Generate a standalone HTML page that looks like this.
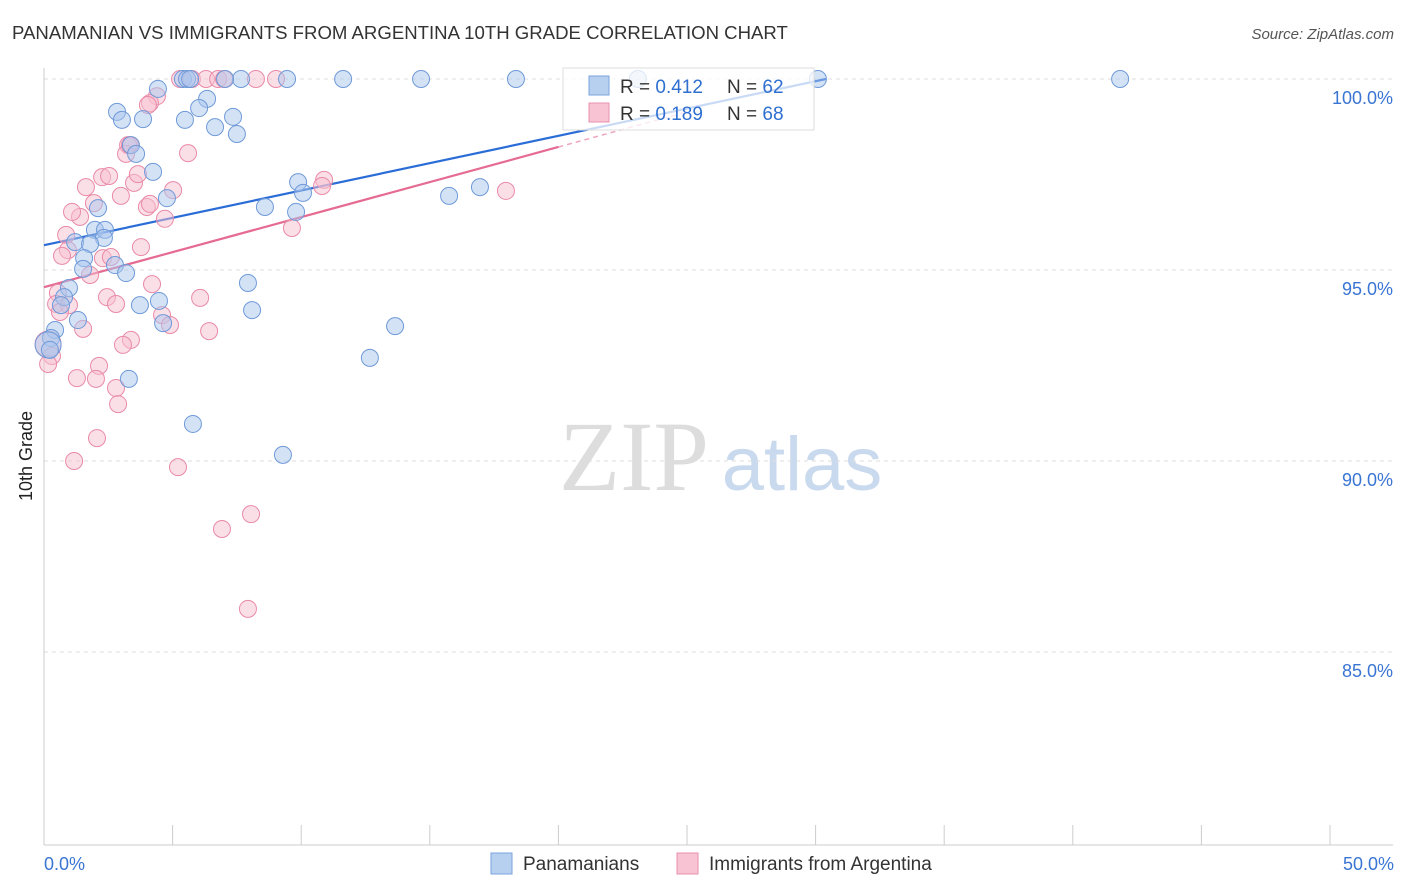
<!DOCTYPE html>
<html><head><meta charset="utf-8"><style>
body{margin:0;background:#fff;font-family:"Liberation Sans",sans-serif;}
svg{display:block}
</style></head><body>
<svg width="1406" height="892" id="svg">
<text x="12" y="39" font-size="18.6" fill="#333">PANAMANIAN VS IMMIGRANTS FROM ARGENTINA 10TH GRADE CORRELATION CHART</text>
<text x="1394" y="39" font-size="15" fill="#555" text-anchor="end" font-style="italic">Source: ZipAtlas.com</text>
<text x="32" y="456" font-size="18" fill="#222" text-anchor="middle" transform="rotate(-90 32 456)">10th Grade</text>
<g><text x="634" y="490" font-size="100" fill="#ddd" text-anchor="middle" font-family="Liberation Serif,serif">ZIP</text><text x="802" y="490" font-size="76" fill="#c9d9ee" text-anchor="middle">atlas</text></g>
<g id="grid"></g><g id="axes"></g><g id="lines"></g><g id="pts"></g>
<g>
<rect x="563" y="68" width="251" height="62" fill="#fff" fill-opacity="0.75" stroke="#ddd"/>
<rect x="589" y="76" width="20" height="19" fill="#b8d0f0" stroke="#7aa3dd"/>
<rect x="589" y="103" width="20" height="19" fill="#f8c4d4" stroke="#e890ac"/>
<text x="620" y="93" font-size="19" fill="#333">R = <tspan fill="#2e6fd0">0.412</tspan></text>
<text x="727" y="93" font-size="19" fill="#333">N = <tspan fill="#2e6fd0">62</tspan></text>
<text x="620" y="120" font-size="19" fill="#333">R = <tspan fill="#2e6fd0">0.189</tspan></text>
<text x="727" y="120" font-size="19" fill="#333">N = <tspan fill="#2e6fd0">68</tspan></text>
</g>
<g>
<rect x="491" y="853" width="21" height="21" fill="#b8d0f0" stroke="#7aa3dd"/>
<text x="523" y="870" font-size="19" fill="#333">Panamanians</text>
<rect x="677" y="853" width="21" height="21" fill="#f8c4d4" stroke="#e890ac"/>
<text x="709" y="870" font-size="19" fill="#333">Immigrants from Argentina</text>
</g>
</svg>
<script>
const yTicks=[100,95,90,85];
const xTickVals=[0,5,10,15,20,25,30,35,40,45,50];
const blueX=[4.43,5.40,5.56,5.68,7.66,9.45,11.63,14.66,18.35,23.09,30.09,41.84,7.04,2.84,3.03,6.34,3.85,5.48,6.03,6.65,7.35,7.50,3.38,3.58,4.24,4.78,9.88,10.07,8.59,9.80,15.75,16.95,2.10,1.98,2.37,2.33,1.21,1.79,1.56,2.76,3.19,1.52,0.97,0.78,0.66,1.32,3.73,4.47,4.63,7.93,8.09,0.43,0.27,0.16,0.23,13.65,12.67,3.30,5.79,9.29];
const blueY=[99.74,100,100,100,100,100,100,100,100,100,100,100,100,99.14,98.93,99.48,98.95,98.93,99.24,98.74,99.01,98.56,98.27,98.04,97.57,96.88,97.30,97.02,96.65,96.52,96.94,97.17,96.62,96.05,96.05,95.84,95.73,95.68,95.31,95.13,94.92,95.03,94.53,94.29,94.08,93.69,94.08,94.19,93.61,94.66,93.95,93.43,93.22,93.04,92.91,93.53,92.70,92.15,90.97,90.16];
const pinkX=[5.29,5.75,6.30,6.77,7.00,8.24,9.02,4.39,4.12,4.04,3.27,3.19,5.60,3.34,1.63,2.26,2.53,3.50,3.65,5.02,2.99,4.00,4.12,4.70,1.94,1.40,1.09,0.86,0.93,0.70,10.89,10.81,17.96,9.64,3.77,2.29,2.60,1.79,4.20,2.45,2.80,6.07,0.54,0.47,0.97,4.59,4.90,6.42,1.52,3.38,3.07,0.16,0.31,0.16,2.14,1.28,2.02,2.80,2.88,2.06,1.17,5.21,6.92,8.05,7.93,0.62];
const pinkY=[100,100,100,100,100,100,100,99.55,99.37,99.32,98.27,98.04,98.06,98.27,97.17,97.43,97.46,97.28,97.51,97.09,96.94,96.65,96.73,96.34,96.75,96.39,96.52,95.92,95.52,95.37,97.36,97.20,97.07,96.10,95.60,95.31,95.34,94.87,94.63,94.29,94.11,94.27,94.40,94.11,94.08,93.82,93.56,93.40,93.46,93.17,93.04,93.06,92.75,92.54,92.49,92.17,92.15,91.91,91.49,90.60,90.00,89.84,88.22,88.61,86.13,93.90];
const blueTrend=[[0,95.65],[30.4,100]];
const pinkTrend=[[0,94.55],[20,98.22],[25,99.14]];
const NS='http://www.w3.org/2000/svg';
const X=v=>44+v*25.72, Y=v=>79+(100-v)*38.2;
function mk(t,a,p){const e=document.createElementNS(NS,t);for(const k in a)e.setAttribute(k,a[k]);document.getElementById(p).appendChild(e);return e;}
yTicks.forEach(t=>{
 const l=mk('line',{x1:44,x2:1393,y1:Y(t),y2:Y(t),stroke:'#ddd','stroke-dasharray':'4,4'},'grid');
 
 
 const tx=mk('text',{x:1393,y:Y(t)+25,'font-size':18,fill:'#3a75d4','text-anchor':'end'},'axes');
 tx.textContent=t.toFixed(1)+'%';
 
 
});
mk('line',{x1:44,x2:44,y1:68,y2:845,stroke:'#ccc'},'axes');
mk('line',{x1:44,x2:1393,y1:845,y2:845,stroke:'#ccc'},'axes');
xTickVals.forEach(t=>{const l=mk('line',{x1:X(t),x2:X(t),y1:825,y2:845,stroke:'#ccc'},'axes');
 
 });
[[0,'0.0%','start',44],[50,'50.0%','end',1394]].forEach(d=>{const t=mk('text',{x:d[3],y:870,'font-size':18,fill:'#3a75d4','text-anchor':d[2]},'axes');t.textContent=d[1];
 
 });
function pts(xs,ys,fill,stroke,name){xs.forEach((x,i)=>{const big=(x<0.2&&Math.abs(ys[i]-93.05)<0.05);
 const c=mk('circle',{cx:X(x),cy:Y(ys[i]),r:big?13:8.5,fill:fill,'fill-opacity':0.5,stroke:stroke,'stroke-width':1},'pts');
 
 });}
pts(pinkX,pinkY,'#f8bfd0','#e98aa9','point-argentina');
pts(blueX,blueY,'#aac6ee','#6f9ad8','point-panamanian');
const bl=mk('line',{x1:X(blueTrend[0][0]),y1:Y(blueTrend[0][1]),x2:X(blueTrend[1][0]),y2:Y(blueTrend[1][1]),stroke:'#2a6dd6','stroke-width':2.2},'lines');


const pl=mk('line',{x1:X(pinkTrend[0][0]),y1:Y(pinkTrend[0][1]),x2:X(pinkTrend[1][0]),y2:Y(pinkTrend[1][1]),stroke:'#e56b92','stroke-width':2.2},'lines');


const pd=mk('line',{x1:X(pinkTrend[1][0]),y1:Y(pinkTrend[1][1]),x2:X(pinkTrend[2][0]),y2:Y(pinkTrend[2][1]),stroke:'#e56b92','stroke-width':1.5,'stroke-dasharray':'5,4','stroke-opacity':0.6},'lines');


</script>
</body></html>
